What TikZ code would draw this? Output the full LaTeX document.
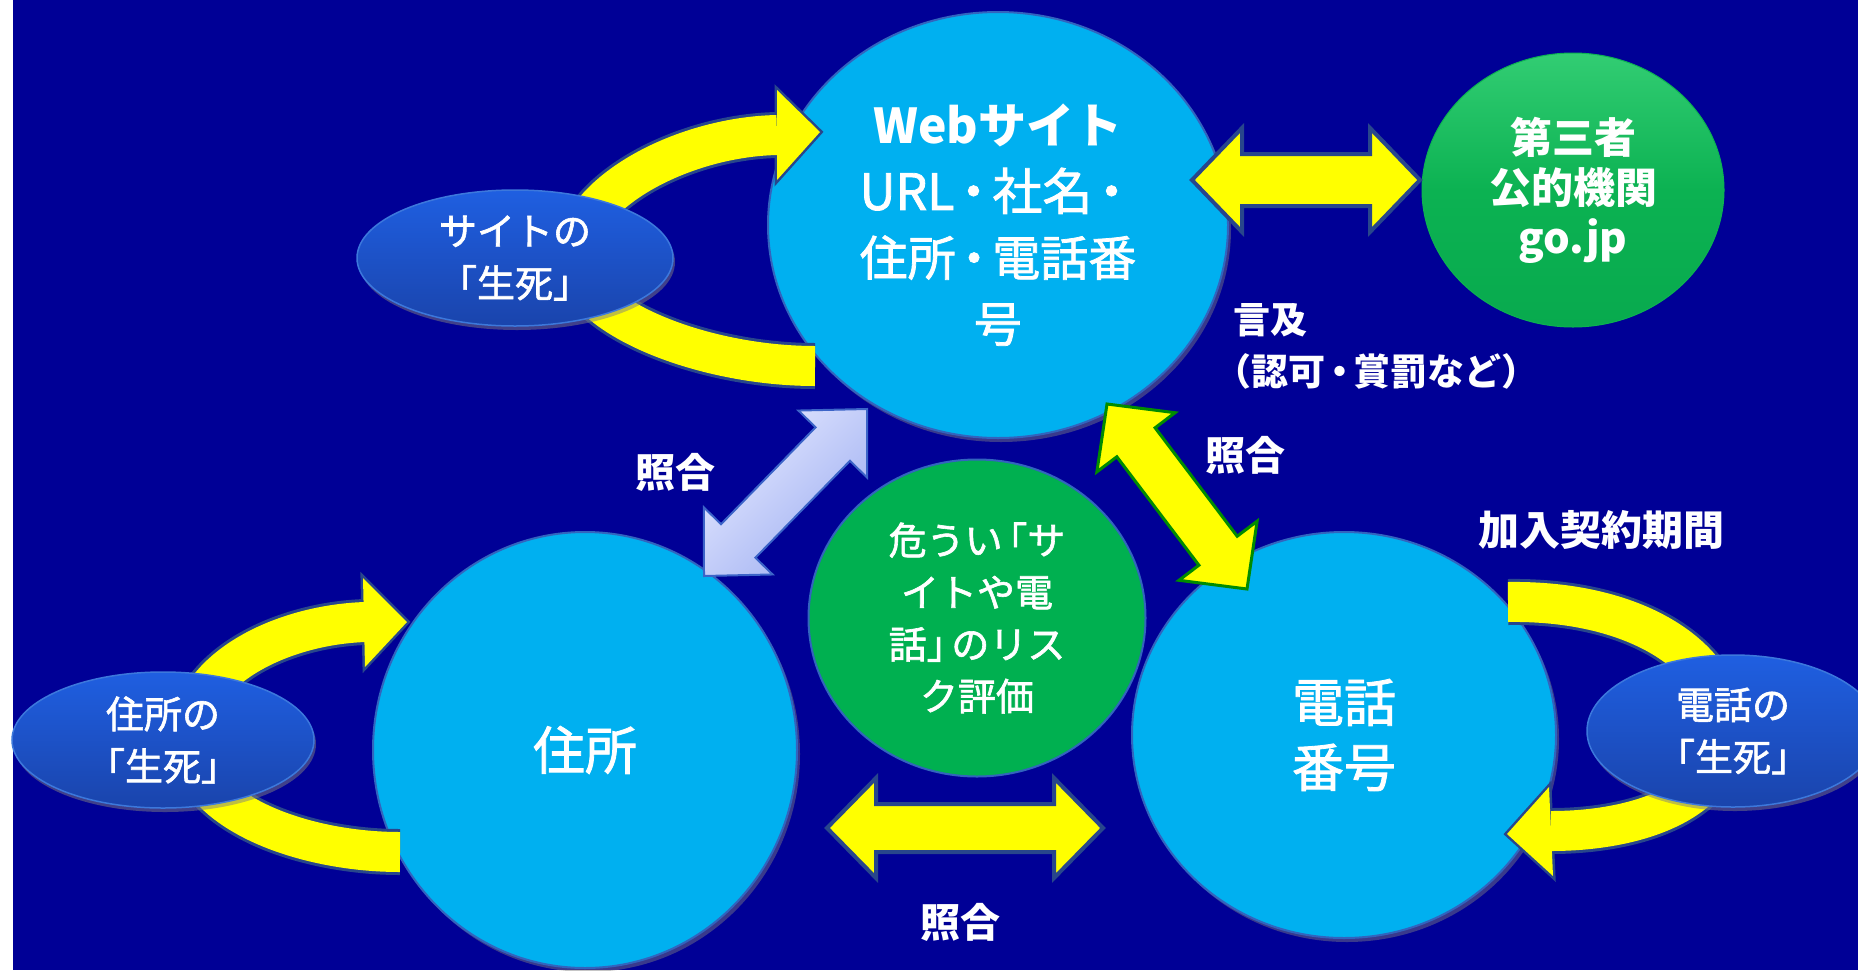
\documentclass[tikz,border=0pt]{standalone}
\usepackage{fontspec}
\newfontfamily\jp[FakeBold=1.6]{Noto Sans CJK JP}
\newfontfamily\jpb{Noto Sans CJK JP}
\usetikzlibrary{calc,shapes.geometric,shadows}
\definecolor{bg}{RGB}{0,0,150}
\definecolor{cyanc}{RGB}{0,176,240}
\definecolor{circline}{RGB}{50,100,190}
\definecolor{riskg}{RGB}{0,176,80}
\definecolor{tpgtop}{RGB}{50,205,115}
\definecolor{tpgmid}{RGB}{12,178,82}
\definecolor{tpgbot}{RGB}{8,170,78}
\definecolor{smtop}{RGB}{31,95,225}
\definecolor{smbot}{RGB}{26,68,172}
\definecolor{smline}{RGB}{60,120,220}
\definecolor{yel}{RGB}{255,255,0}
\definecolor{arrowline}{RGB}{40,70,140}
\definecolor{lavlight}{RGB}{228,232,255}
\definecolor{lavdark}{RGB}{160,176,242}
\definecolor{lavline}{RGB}{60,100,200}
\definecolor{dgreen}{RGB}{0,140,0}
\newcommand{\jpfs}[2]{\fontsize{#1}{#2}\selectfont}
\newcommand{\tdot}{\hspace{-0.12em}・\hspace{-0.12em}}
% double block arrow: style, tip a, tip b, head length, head half width, shaft half width
\newcommand{\dblarrow}[6]{%
  \path ($(#2)!#4!(#3)$) coordinate (ha) ($(#3)!#4!(#2)$) coordinate (hb);
  \draw[#1] (#2) -- ($(ha)!#5!90:(#3)$) -- ($(ha)!#6!90:(#3)$)
    -- ($(hb)!#6!-90:(#2)$) -- ($(hb)!#5!-90:(#2)$) -- (#3)
    -- ($(hb)!#5!90:(#2)$) -- ($(hb)!#6!90:(#2)$)
    -- ($(ha)!#6!-90:(#3)$) -- ($(ha)!#5!-90:(#3)$) -- cycle;
}
\begin{document}
\begin{tikzpicture}[x=1pt,y=-1pt,
  every node/.style={text=white, inner sep=0pt, align=center},
  bigc/.style={ellipse, fill=cyanc, draw=circline, line width=2pt,
    drop shadow={opacity=0.45, shadow xshift=3pt, shadow yshift=-4pt}},
  smallc/.style={ellipse, top color=smtop, bottom color=smbot, draw=smline, line width=1.5pt,
    drop shadow={opacity=0.5, shadow xshift=2pt, shadow yshift=-4pt}},
  yarrow/.style={fill=yel, draw=arrowline, line width=4pt, line join=miter},
  lbl/.style={font=\jpb\bfseries\jpfs{40}{52}}
]
\useasboundingbox (0,0) rectangle (1858,970);
\fill[white] (0,0) rectangle (1858,970);
\fill[bg] (13,0) rectangle (1858,970);

% big circles
\node[bigc, minimum width=460pt, minimum height=426pt, font=\jp\jpfs{48}{66}] (web) at (998,225)
  {{\jpb\bfseries Webサイト}\\\jpfs{50}{66}URL\tdot 社名\tdot\\住所\tdot 電話番\\号};
\node[bigc, minimum width=424pt, minimum height=436pt, font=\jp\jpfs{52}{65}] (addr) at (585,750) {住所};
\node[bigc, minimum width=424pt, minimum height=406pt, font=\jp\jpfs{52}{65}] (tel) at (1344,735) {電話\\番号};
\node[ellipse, minimum width=337pt, minimum height=317pt, fill=riskg, draw=circline, line width=2pt,
  font=\jp\jpfs{38}{52}] (risk) at (977,618)
  {危うい\hspace{-0.35em}「サ\\イトや電\\話」\hspace{-0.35em}のリス\\ク評価};
\node[ellipse, minimum width=302pt, minimum height=274pt, top color=tpgtop, bottom color=tpgbot,
  middle color=tpgmid, draw=tpgmid, line width=1pt, font=\jpb\bfseries\jpfs{42}{50}] (third) at (1573,190)
  {第三者\\公的機関\\go.jp};

% curved arrows: site
\coordinate (sEnd) at (815,366);
\coordinate (sApex) at (575,258);
\coordinate (sBase) at (777,135);
\newcommand{\sitepath}{(sEnd) .. controls (700,366) and (575,315) .. (sApex) .. controls (575,195) and (680,137) .. (sBase)}
\newcommand{\sitehead}{(777,90) -- (820,132) -- (777,180) -- cycle}
\draw[arrowline, line width=46pt] \sitepath;
\draw[arrowline, line width=5pt, line join=miter] \sitehead;
\draw[yel, line width=40pt] \sitepath;
\fill[yel] \sitehead;

% curved arrows: address
\coordinate (aEnd) at (400,852);
\coordinate (aApex) at (190,740);
\coordinate (aBase) at (365,622);
\newcommand{\addrpath}{(aEnd) .. controls (300,852) and (190,810) .. (aApex) .. controls (190,670) and (280,625) .. (aBase)}
\newcommand{\addrhead}{(363,578) -- (407,622) -- (365,667) -- cycle}
\draw[arrowline, line width=46pt] \addrpath;
\draw[arrowline, line width=5pt, line join=miter] \addrhead;
\draw[yel, line width=40pt] \addrpath;
\fill[yel] \addrhead;

% curved arrows: phone
\coordinate (tEnd) at (1508,602);
\coordinate (tApex) at (1725,731);
\coordinate (tBase) at (1551,831);
\newcommand{\telpath}{(tEnd) .. controls (1640,600) and (1725,660) .. (tApex) .. controls (1725,800) and (1640,831) .. (tBase)}
\newcommand{\telhead}{(1549,787) -- (1507,834) -- (1553,876) -- cycle}
\draw[arrowline, line width=46pt] \telpath;
\draw[arrowline, line width=5pt, line join=miter] \telhead;
\draw[yel, line width=40pt] \telpath;
\fill[yel] \telhead;

% small ellipses
\node[smallc, minimum width=316pt, minimum height=136pt, font=\jp\jpfs{38}{52}] (siteLD) at (515,258) {サイトの\\「生死」};
\node[smallc, minimum width=302pt, minimum height=136pt, font=\jp\jpfs{38}{52}] (addrLD) at (163,740) {住所の\\「生死」};
\node[smallc, minimum width=292pt, minimum height=152pt, font=\jp\jpfs{38}{52}] (telLD) at (1733,731) {電話の\\「生死」};

% straight double arrows
\coordinate (w3a) at (1192,180);
\coordinate (w3b) at (1420,180);
\dblarrow{yarrow}{w3a}{w3b}{50pt}{52pt}{26pt}

\coordinate (lavA) at (704,576);
\coordinate (lavB) at (867,409);
\dblarrow{draw=lavline, line width=2pt, line join=miter, top color=lavlight, bottom color=lavdark, shading angle=45}{lavA}{lavB}{49pt}{48pt}{24pt}

\coordinate (ydA) at (1107,404);
\coordinate (ydB) at (1247,589);
\dblarrow{fill=yel, draw=dgreen, line width=3pt, line join=miter}{ydA}{ydB}{48pt}{49pt}{24pt}

\coordinate (btA) at (827,828);
\coordinate (btB) at (1103,828);
\dblarrow{yarrow}{btA}{btB}{49pt}{50pt}{24pt}

% labels
\node[lbl] (sg1) at (675,472) {照合};
\node[lbl] (sg2) at (1245,455) {照合};
\node[lbl] (sg3) at (960,922) {照合};
\node[lbl, font=\jpb\bfseries\jpfs{41}{52}] (kanyu) at (1601,530) {加入契約期間};
\node[lbl, font=\jpb\bfseries\jpfs{37}{52}, align=left, anchor=west] (genkyu) at (1233,346)
  {言及\\\hspace*{-0.5em}（認可\tdot 賞罰など）};
\end{tikzpicture}
\end{document}
